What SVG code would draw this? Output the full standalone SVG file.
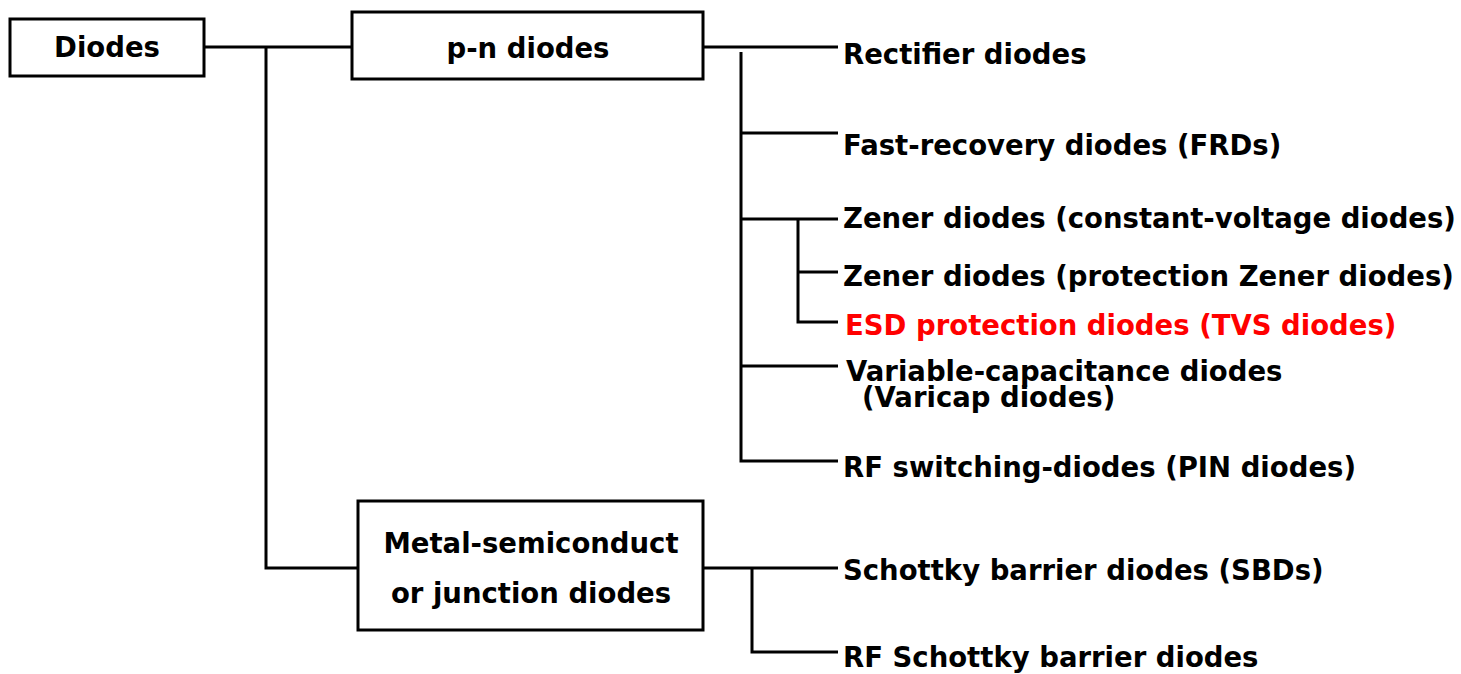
<svg xmlns="http://www.w3.org/2000/svg" width="1461" height="674" viewBox="0 0 1461 674">
<style>
.box{fill:#fff;stroke:#000;stroke-width:3}
.ln{fill:none;stroke:#000;stroke-width:3}
text{font-family:"DejaVu Sans","Noto Sans",sans-serif;font-weight:bold;font-size:27.5px;fill:#000}
.c{text-anchor:middle}
.red{fill:#ff0000}
</style>
<rect width="1461" height="674" fill="#fff"/>
<g id="connectors">
<polyline class="ln" points="204,47 352,47"/>
<polyline class="ln" points="266,47 266,568 358,568"/>
<polyline class="ln" points="703,47 838,47"/>
<polyline class="ln" points="741,52 741,461 838,461"/>
<polyline class="ln" points="741,133 838,133"/>
<polyline class="ln" points="741,219 838,219"/>
<polyline class="ln" points="798,219 798,322 838,322"/>
<polyline class="ln" points="798,272 838,272"/>
<polyline class="ln" points="741,366 838,366"/>
<polyline class="ln" points="703,568 838,568"/>
<polyline class="ln" points="752,568 752,652 838,652"/>
</g>
<g id="diodes"><rect class="box" x="10" y="19" width="194" height="57"/><text class="c" x="107" y="57">Diodes</text></g>
<g id="pn"><rect class="box" x="352" y="12" width="351" height="67"/><text class="c" x="528" y="58">p-n diodes</text></g>
<g id="metal"><rect class="box" x="358" y="501" width="345" height="129"/><text class="c" x="531" y="553">Metal-semiconduct</text><text class="c" x="531" y="603">or junction diodes</text></g>
<g id="rectifier"><text x="843" y="64">Rectifier diodes</text></g>
<g id="frd"><text x="843" y="155">Fast-recovery diodes (FRDs)</text></g>
<g id="zener1"><text x="843" y="228">Zener diodes (constant-voltage diodes)</text></g>
<g id="zener2"><text x="843" y="286">Zener diodes (protection Zener diodes)</text></g>
<g id="esd"><text class="red" x="845" y="335">ESD protection diodes (TVS diodes)</text></g>
<g id="varicap"><text x="846" y="381">Variable-capacitance diodes</text><text x="862" y="407">(Varicap diodes)</text></g>
<g id="pin"><text x="843" y="477">RF switching-diodes (PIN diodes)</text></g>
<g id="sbd"><text x="843" y="580">Schottky barrier diodes (SBDs)</text></g>
<g id="rfsbd"><text x="843" y="667">RF Schottky barrier diodes</text></g>
</svg>
